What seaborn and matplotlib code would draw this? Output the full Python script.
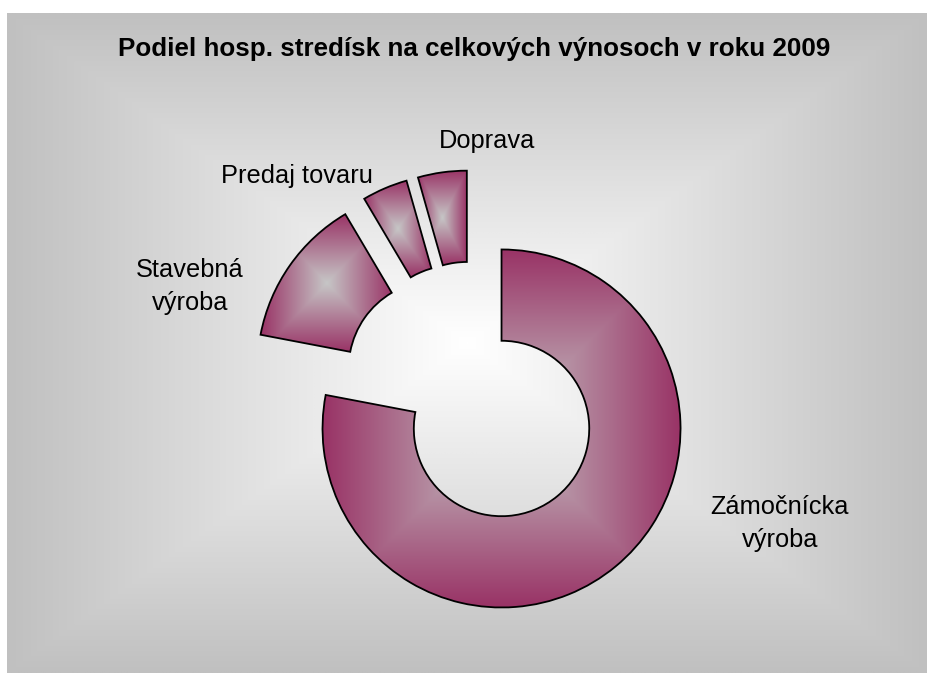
import numpy as np
import matplotlib
matplotlib.use("Agg")
import matplotlib.pyplot as plt
import seaborn as sns

# podiel hospodarskych stredisk na vynosoch 2009 (odcitane z grafu, %)
strediska = ["Zámočnícka\nvýroba", "Stavebná\nvýroba", "Predaj tovaru", "Doprava"]
podiel = [78.0, 13.5, 4.1, 4.4]
nadpis = "Podiel hosp. stredísk na celkových výnosoch v roku 2009"

# label anchors (pixel coords in the reference: x center, last baseline)
label_px = [(780, 547), (190, 310), (297, 183), (487, 148)]

sns.set_theme(style="white")
plt.rcParams["font.family"] = ["Liberation Sans", "DejaVu Sans"]

W, H = 928, 673
cx, cy, R = 473, 394, 179  # pie center and radius in pixels

fig = plt.figure(figsize=(W / 100, H / 100), dpi=100)
fig.patch.set_facecolor("white")

# === background: rectangular gradient white -> gray ===
bg = fig.add_axes([7 / W, 0, (W - 7) / W, (H - 13) / H])
u, v = np.meshgrid(np.linspace(-1, 1, 600), np.linspace(-1, 1, 600))
bg_cmap = sns.blend_palette(["#FFFFFF", "#C0C0C0"], as_cmap=True)
bg.imshow(np.maximum(np.abs(u), np.abs(v)), cmap=bg_cmap, aspect="auto",
          extent=[0, 1, 0, 1], vmin=0, vmax=1)
bg.set_axis_off()

# === doughnut ===
ax = fig.add_axes([0, 0, 1, 1])
ax.patch.set_alpha(0)
wedges, _ = ax.pie(podiel, startangle=90, counterclock=False, radius=1,
                   explode=[0.25] * len(podiel),
                   wedgeprops=dict(width=0.51, facecolor="none",
                                   edgecolor="black", linewidth=1.3))

seg_cmap = sns.blend_palette(["#C6C6C6", "#993366"], as_cmap=True)
for w in wedges:
    w.set_zorder(3)
    ext = w.get_path().get_extents()
    g = np.maximum(np.abs(u), np.abs(v))
    im = ax.imshow(g, cmap=seg_cmap, vmin=0, vmax=1, aspect="auto",
                   extent=[ext.x0, ext.x1, ext.y0, ext.y1], zorder=2,
                   interpolation="bilinear")
    im.set_clip_path(w)

for name, (px, py) in zip(strediska, label_px):
    ax.text((px - cx) / R, (cy - py) / R, name, ha="center", va="baseline",
            fontsize=18.3, color="black", linespacing=1.45,
            multialignment="center")

ax.set_xlim(-cx / R, (W - cx) / R)
ax.set_ylim(-(H - cy) / R, cy / R)
ax.set_axis_off()

fig.text(474 / W, 1 - 56 / H, nadpis, ha="center", va="baseline",
         fontsize=18.7, fontweight="bold", color="black")

fig.savefig("out.png", dpi=100)
